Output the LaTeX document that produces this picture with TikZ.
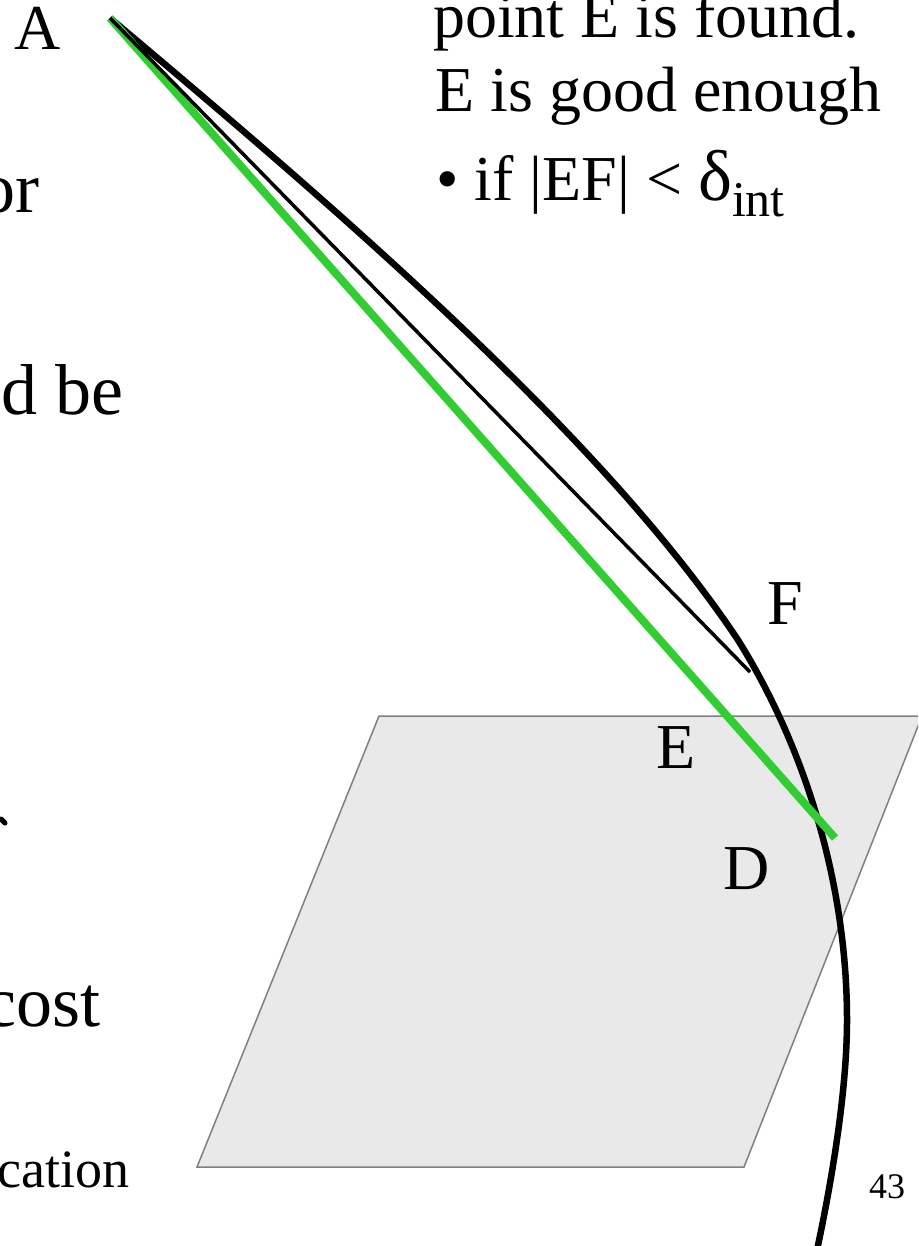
\documentclass[tikz,border=0pt]{standalone}
\usepackage{fontspec}
\setmainfont{Liberation Serif}
\definecolor{gr}{RGB}{50,205,50}
\definecolor{pl}{RGB}{233,233,233}
\tikzset{lab/.style={inner sep=0pt,anchor=base west,font=\fontsize{64}{64}\selectfont},
side/.style={inner sep=0pt,anchor=base east,font=\fontsize{72}{72}\selectfont},
small/.style={inner sep=0pt,anchor=base west,font=\fontsize{36}{36}\selectfont}}
\begin{document}
\begin{tikzpicture}[x=1pt,y=-1pt]
\useasboundingbox (0,0) rectangle (918,1246);
\clip (0,0) rectangle (918,1246);
\fill[white] (0,0) rectangle (918,1246);
\draw[fill=pl,draw=black!50,line width=1.5pt] (379,716) -- (922,716) -- (744,1167) -- (197,1167) -- cycle;
\draw[line width=6.5pt,line join=round] (110,18) .. controls (319,194) and (598,430) .. (738,640) .. controls (803,744) and (847,880) .. (847,1020) .. controls (847,1090) and (832,1180) .. (817,1250);
\draw[line width=8pt,color=gr] (110,18) -- (835,838);
\draw[line width=3.5pt] (750,672) -- (110,18);
\node[lab] (a) at (14,50) {A};
\node[lab] (f) at (767,624) {F};
\node[lab] (e) at (656,768) {E};
\node[lab] (d) at (723,889) {D};
\node[lab] (t1) at (433,38) {point E is found.};
\node[lab] (t2) at (435,112) {E is good enough};
\node[lab] (t3) at (436,201) {• if |EF| < {\fontsize{72}{72}\selectfont δ}\raisebox{-16pt}{\fontsize{50}{50}\selectfont int}};
\node[side] (o1) at (40,213) {or};
\node[side] (o2) at (124,414) {d be};
\draw[line width=5pt,line cap=round] (1,819) -- (5,823);
\node[side] (o4) at (101,1026) {cost};
\node[lab,anchor=base east,font=\fontsize{54}{54}\selectfont] (o5) at (130,1187) {cation};
\node[small] (n) at (869,1198) {43};
\end{tikzpicture}
\end{document}
